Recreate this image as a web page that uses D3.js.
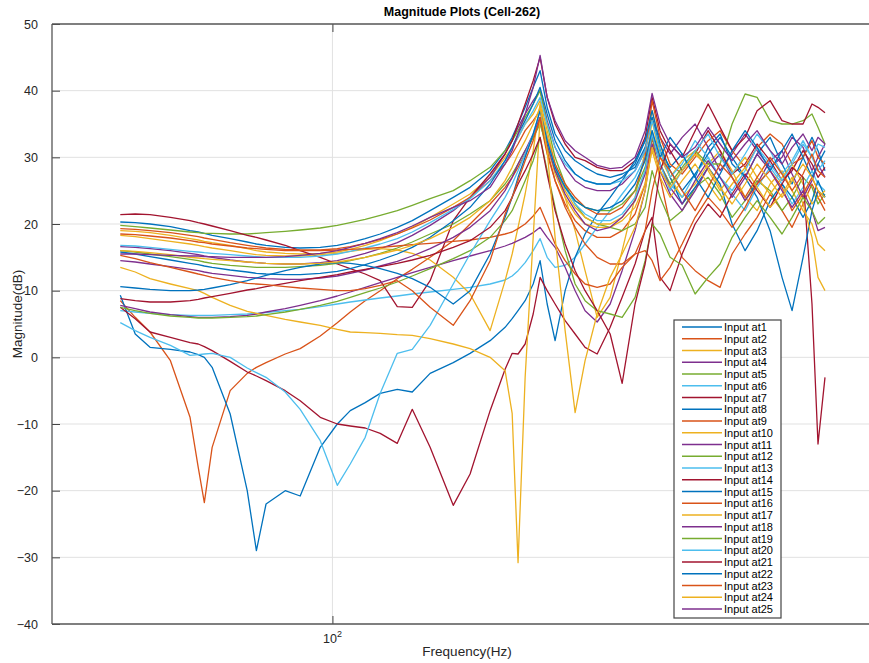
<!DOCTYPE html>
<html>
<head>
<meta charset="utf-8">
<script src="https://cdn.jsdelivr.net/npm/d3@7"></script>
<style>
body{margin:0;background:#fff;}
svg{display:block;font-family:"Liberation Sans",Arial,Helvetica,sans-serif;}
</style>
</head>
<body>
<div id="chart"></div>
<script>
// frequency grid (Hz), shared by every input
var freq = [50.0,52.5,55.1,58.9,62.8,64.5,65.8,67.5,71.6,75.7,78.0,80.5,85.7,90.0,96.1,101.6,106.0,111.3,116.9,123.6,129.8,137.6,
    148.4,156.8,167.4,175.8,179.9,183.4,187.7,192.7,197.1,201.7,207.0,213.9,221.0,228.3,237.5,247.8,257.7,268.8,277.8,284.2,
    291.7,301.4,313.5,327.1,341.3,354.9,369.1,385.1,400.5,417.9,434.5,449.0,465.4,479.2,488.7,500.0];

// magnitude (dB) per input location
var at1 = [20.3,20.2,20.0,19.6,19.0,18.8,18.6,18.3,17.8,17.3,17.0,16.8,16.5,16.4,16.5,16.8,17.2,17.8,18.5,19.5,20.5,22.0,
    24.0,25.5,28.0,31.0,33.0,35.0,37.5,40.5,43.0,37.5,33.5,31.0,29.5,28.5,27.5,27.0,27.5,28.5,31.5,36.0,
    31.0,28.5,30.5,27.0,31.5,33.5,29.0,27.0,30.5,33.0,29.0,26.0,30.0,33.0,31.0,28.0];
var at2 = [8.5,6.0,3.8,-0.5,-9.0,-16.5,-21.8,-13.5,-5.0,-2.4,-1.5,-0.8,0.5,1.3,3.2,5.2,6.8,8.5,10.0,11.8,13.2,15.0,
    17.5,20.0,23.0,25.5,27.0,28.5,30.5,33.0,35.5,30.5,26.5,23.0,20.5,19.0,18.0,18.0,19.0,21.5,26.0,33.0,
    27.0,20.0,15.0,13.0,11.5,10.5,15.5,18.5,21.0,24.5,22.0,19.5,23.0,26.0,24.0,22.0];
var at3 = [19.0,18.9,18.7,18.3,17.8,17.6,17.4,17.2,16.8,16.3,16.0,15.8,15.6,15.5,15.6,15.8,16.2,16.8,17.5,18.5,19.5,21.0,
    23.0,24.5,27.0,30.0,31.5,33.0,35.0,36.5,38.5,34.0,29.0,24.0,19.0,13.0,6.0,9.0,16.0,24.0,31.0,37.0,
    32.0,27.0,24.0,26.0,29.0,31.0,28.0,24.0,22.0,26.0,28.0,25.0,22.0,20.0,17.0,16.0];
var at4 = [16.6,16.5,16.3,16.0,15.6,15.4,15.2,15.0,14.6,14.3,14.2,14.1,14.0,14.0,14.2,14.5,15.0,15.6,16.3,17.2,18.3,19.8,
    22.0,24.0,27.0,30.5,32.5,34.5,36.5,38.5,40.0,35.5,31.5,28.5,26.5,25.5,25.0,25.0,26.0,28.0,31.0,35.5,
    33.0,30.5,33.0,35.0,31.5,28.0,30.5,33.5,31.0,28.5,30.0,33.0,31.5,28.0,30.0,32.0];
var at5 = [19.8,19.6,19.4,19.1,18.8,18.7,18.6,18.6,18.5,18.5,18.6,18.7,18.9,19.1,19.4,19.8,20.2,20.7,21.3,22.0,22.8,23.8,
    25.0,26.5,28.5,31.0,32.5,34.0,36.0,38.0,40.0,35.0,30.0,26.0,23.0,21.0,20.0,19.5,19.0,20.0,22.5,28.0,
    24.0,20.5,22.0,25.5,27.0,24.5,21.0,23.5,26.5,25.0,22.0,24.0,27.0,25.5,23.0,24.5];
var at6 = [7.0,6.8,6.6,6.4,6.3,6.3,6.3,6.3,6.4,6.5,6.6,6.7,7.0,7.2,7.6,8.0,8.3,8.6,8.9,9.2,9.5,9.8,
    10.2,10.5,11.0,11.6,12.2,13.0,14.2,16.0,17.8,15.0,13.5,13.8,15.0,17.0,19.5,22.0,24.5,27.0,30.0,34.0,
    29.0,26.0,24.0,27.5,30.0,27.0,24.5,22.0,25.5,28.5,26.0,23.0,25.5,28.0,26.0,25.0];
var at7 = [21.4,21.5,21.4,21.0,20.5,20.2,20.0,19.7,19.0,18.3,18.0,17.6,16.8,16.0,15.0,14.0,13.3,12.5,11.5,7.6,7.5,11.5,
    20.5,24.0,27.5,30.5,32.5,35.0,38.0,41.5,45.0,39.0,35.0,32.0,30.0,29.5,28.5,28.0,28.0,29.5,33.0,39.0,
    34.0,31.0,28.0,30.5,34.0,31.0,27.5,29.0,32.0,29.5,26.5,28.0,31.0,29.0,27.0,28.5];
var at8 = [9.3,3.5,1.5,1.2,0.8,0.4,0.0,-1.5,-8.5,-20.0,-29.0,-22.0,-20.0,-20.8,-13.5,-10.0,-8.0,-6.8,-5.4,-4.8,-5.2,-2.4,
    -0.8,0.6,2.5,4.5,5.8,7.0,8.5,11.0,14.5,8.0,2.5,10.0,15.0,18.5,21.5,24.0,26.5,29.5,32.5,36.0,
    31.0,27.0,23.0,25.5,28.5,26.0,20.0,16.0,19.0,23.5,26.0,24.0,21.0,23.5,26.5,24.0];
var at9 = [19.3,19.2,19.0,18.7,18.3,18.1,17.9,17.7,17.2,16.8,16.6,16.4,16.2,16.1,16.1,16.3,16.6,17.1,17.7,18.5,19.4,20.6,
    22.5,24.0,26.5,29.0,30.5,32.0,34.0,35.5,37.0,33.0,29.0,26.0,24.0,22.5,21.5,21.5,22.5,25.0,30.0,38.5,
    33.0,29.0,27.5,30.0,32.5,34.0,31.0,28.5,31.5,33.5,32.0,29.0,30.0,32.5,30.0,29.0];
var at10 = [18.3,18.1,17.8,17.4,17.0,16.8,16.6,16.4,16.0,15.6,15.4,15.3,15.2,15.2,15.4,15.6,15.9,16.2,16.3,16.1,15.6,14.6,
    12.0,9.5,4.0,11.5,15.5,19.5,24.5,31.0,38.0,33.0,28.5,25.0,22.5,21.0,20.0,20.0,21.0,23.5,28.0,35.5,
    30.0,27.0,29.5,31.0,28.0,25.0,27.5,30.0,27.0,24.5,27.0,29.0,26.0,23.0,24.0,25.0];
var at11 = [7.8,7.3,6.8,6.4,6.1,6.0,6.0,6.0,6.1,6.3,6.5,6.8,7.3,7.8,8.5,9.2,9.8,10.5,11.2,12.0,12.7,13.5,
    14.5,15.2,16.0,16.7,17.1,17.5,18.0,18.7,19.5,18.0,16.5,13.5,10.0,7.0,5.3,8.0,13.0,19.0,25.0,32.0,
    28.0,24.5,22.0,25.0,28.5,30.5,27.0,23.5,26.0,29.5,31.0,27.5,24.0,26.5,29.0,27.0];
var at12 = [16.0,15.8,15.5,15.1,14.7,14.5,14.3,14.1,13.8,13.6,13.5,13.5,13.5,13.6,13.8,14.1,14.5,15.0,15.6,16.4,17.3,18.5,
    20.0,21.5,23.5,26.0,27.5,29.0,31.0,33.0,35.0,31.5,28.0,25.5,23.5,22.5,22.0,22.0,23.0,25.0,28.5,33.0,
    29.0,26.0,28.5,31.0,29.0,29.0,35.0,39.5,39.0,35.5,35.0,35.0,35.5,36.5,34.5,32.0];
var at13 = [16.8,16.7,16.5,16.2,15.9,15.8,15.7,15.6,15.4,15.2,15.1,15.0,15.0,15.0,15.2,15.5,15.9,16.4,17.0,17.8,18.8,20.2,
    22.2,23.8,26.5,29.5,31.5,33.0,35.0,37.0,39.0,35.0,31.5,29.0,27.5,26.5,26.0,26.0,26.5,28.0,31.0,35.5,
    31.0,27.0,29.0,32.5,30.0,27.0,25.0,28.0,31.5,29.0,26.5,29.0,32.0,30.0,32.0,31.5];
var at14 = [7.5,5.8,3.8,3.0,2.2,2.0,1.6,1.0,-0.6,-2.2,-2.8,-3.5,-5.0,-6.5,-9.0,-10.0,-10.3,-10.6,-11.4,-12.9,-7.8,-13.5,
    -22.2,-17.5,-8.0,-1.8,0.6,0.5,2.0,6.5,12.0,10.0,8.0,5.5,3.5,1.5,0.5,4.5,9.0,14.0,19.0,21.0,
    12.0,10.0,15.5,20.0,23.0,21.0,24.5,27.5,25.0,22.5,26.0,28.5,27.0,8.0,-13.0,-3.0];
var at15 = [15.8,15.5,15.1,14.6,14.1,13.9,13.7,13.5,13.1,12.8,12.6,12.5,12.4,12.4,12.6,12.9,13.3,13.9,14.6,15.5,16.5,18.0,
    20.5,22.5,26.0,29.5,31.5,33.5,35.5,38.0,40.5,36.5,32.5,29.5,27.5,26.5,26.0,26.0,27.0,29.0,32.5,37.0,
    32.0,28.0,25.0,27.5,30.5,33.0,30.0,27.0,24.0,19.0,12.0,7.0,15.0,22.0,25.0,24.0];
var at16 = [18.5,18.4,18.2,17.9,17.5,17.3,17.2,17.0,16.7,16.4,16.3,16.2,16.0,16.0,16.0,16.1,16.2,16.3,16.5,16.7,16.9,17.1,
    17.4,17.6,18.0,18.5,18.8,19.3,20.0,21.2,22.5,20.0,17.0,14.5,12.5,11.0,10.5,11.0,13.5,15.5,16.0,14.5,
    11.5,13.5,17.0,21.0,24.0,22.0,19.5,22.5,26.0,28.0,25.5,22.0,24.5,27.0,25.0,23.0];
var at17 = [13.5,12.8,11.8,11.0,10.3,10.0,9.6,9.0,7.8,6.9,6.6,6.3,5.7,5.3,4.8,4.2,3.8,3.7,3.6,3.4,3.3,2.8,
    2.0,1.3,0.0,-2.0,-8.4,-30.8,-3.0,18.0,36.0,32.0,27.5,24.0,21.5,20.0,19.5,19.5,20.5,22.5,26.0,31.0,
    27.0,24.0,26.5,29.0,26.0,23.5,26.0,28.5,25.5,22.5,24.5,27.0,23.0,18.0,12.0,10.0];
var at18 = [14.5,14.3,14.0,13.6,13.2,13.0,12.8,12.6,12.3,12.0,11.9,11.8,11.7,11.7,11.9,12.2,12.6,13.1,13.7,14.4,15.2,16.3,
    18.0,19.5,22.0,25.0,27.0,29.0,31.0,33.5,36.0,32.0,28.0,24.5,22.0,20.0,19.0,19.5,21.0,23.5,27.5,33.5,
    29.0,25.5,23.0,26.5,29.5,27.0,24.0,27.0,30.5,28.0,25.0,22.5,25.0,22.0,19.0,19.5];
var at19 = [7.5,7.0,6.6,6.2,6.0,5.9,5.9,5.9,6.0,6.1,6.2,6.4,6.8,7.2,7.8,8.4,9.0,9.7,10.4,11.3,12.2,13.3,
    14.8,16.0,18.0,20.5,22.0,24.0,26.5,29.5,33.0,28.0,22.5,16.0,11.0,8.5,7.0,6.5,6.0,9.0,14.5,20.0,
    18.5,15.0,13.8,9.5,12.0,14.0,18.0,21.0,23.5,21.0,18.5,21.0,24.0,22.0,20.0,21.0];
var at20 = [5.2,4.0,3.0,1.8,0.3,0.4,0.5,0.6,0.0,-1.6,-2.3,-3.0,-5.2,-7.8,-12.5,-19.2,-16.0,-12.0,-5.4,0.6,1.2,4.8,
    11.0,15.5,20.5,24.0,26.0,28.0,30.5,33.5,37.0,32.5,28.5,25.5,23.0,21.5,20.5,20.5,21.5,24.0,28.0,33.5,
    29.0,25.0,28.0,31.0,33.5,30.0,27.5,30.5,33.5,31.0,27.5,29.5,32.5,30.0,28.0,29.5];
var at21 = [8.8,8.5,8.3,8.3,8.5,8.7,8.9,9.1,9.6,10.1,10.3,10.6,11.1,11.5,12.0,12.4,12.8,13.2,13.6,14.1,14.6,15.3,
    16.5,17.5,19.5,22.0,24.0,26.0,28.0,30.5,33.0,27.5,22.0,17.0,13.0,10.0,7.0,3.5,-3.9,8.0,14.0,20.0,
    28.0,32.0,30.0,34.0,38.0,34.5,31.0,33.0,37.0,38.5,35.5,35.0,35.0,38.0,37.5,36.7];
var at22 = [10.6,10.4,10.2,10.0,10.0,10.1,10.2,10.4,10.9,11.5,11.9,12.3,13.0,13.5,14.0,14.2,14.1,13.8,13.3,12.6,11.8,10.5,
    8.0,10.0,15.5,21.0,24.0,27.0,30.0,33.5,37.0,32.5,28.5,25.5,23.5,22.5,22.0,22.5,23.5,26.0,29.5,34.0,
    30.0,33.0,30.5,27.0,24.0,27.5,31.0,34.0,31.5,28.0,31.0,33.5,30.0,27.0,29.0,31.0];
var at23 = [15.3,14.8,14.2,13.5,12.8,12.5,12.3,12.0,11.5,11.1,11.0,10.9,10.6,10.4,10.2,10.0,10.0,10.3,10.8,11.5,10.0,7.5,
    4.8,8.5,14.5,21.5,24.0,26.5,29.5,32.5,36.0,31.0,26.5,22.5,19.5,17.0,15.0,14.0,14.0,15.5,19.0,25.0,
    30.0,28.0,25.0,22.0,25.5,29.0,27.0,24.0,27.0,30.0,27.5,25.0,27.5,30.5,28.0,27.0];
var at24 = [16.0,15.9,15.7,15.4,15.0,14.9,14.8,14.7,14.5,14.3,14.2,14.1,14.0,14.0,14.1,14.3,14.6,15.0,15.5,16.1,16.8,17.8,
    19.5,21.0,23.5,26.5,28.5,30.5,32.5,35.0,37.5,31.0,18.0,4.0,-8.3,-0.5,6.5,12.0,15.5,19.5,25.0,31.5,
    28.0,25.5,28.0,30.5,28.5,25.5,23.0,26.0,29.0,26.5,24.0,26.5,29.0,27.0,25.0,24.0];
var at25 = [15.5,15.5,15.4,15.3,15.2,15.2,15.1,15.1,15.0,15.0,15.0,15.0,15.1,15.3,15.6,16.0,16.5,17.1,17.8,18.7,19.7,21.0,
    22.5,23.5,25.5,29.0,31.0,33.5,36.5,40.5,45.3,39.0,35.5,32.5,31.0,30.0,28.8,28.3,28.5,30.0,34.0,39.6,
    35.0,32.0,30.0,31.5,34.5,32.0,29.5,32.0,34.0,31.0,29.0,31.5,33.5,31.0,33.0,32.0];

var series = [at1,at2,at3,at4,at5,at6,at7,at8,at9,at10,at11,at12,at13,at14,at15,at16,at17,at18,at19,at20,at21,at22,at23,at24,at25];
var names = series.map(function(d,i){ return "Input at" + (i+1); });
var colors = ["#0072BD","#D95319","#EDB120","#7E2F8E","#77AC30","#4DBEEE","#A2142F"];

var yTicks = [-40,-30,-20,-10,0,10,20,30,40,50];
var xTicks = [100];
var xDomain = [40, 583];
var yDomain = [-40, 50];

function init(){
    var w = 869, h = 663;
    var left = 52, right = 872, top = 24, bottom = 624;

    var svg = d3.select("#chart").append("svg")
        .attr("width", w)
        .attr("height", h);

    var xScale = d3.scaleLog().domain(xDomain).range([left, right]);
    var yScale = d3.scaleLinear().domain(yDomain).range([bottom, top]);

    // grid
    svg.append("g").selectAll("line")
        .data(yTicks.filter(function(t){ return t > -40 && t < 50; }))
        .enter().append("line")
        .attr("x1", left).attr("x2", right)
        .attr("y1", function(d){ return yScale(d); })
        .attr("y2", function(d){ return yScale(d); })
        .attr("stroke", "#e1e1e1").attr("stroke-width", 1);
    svg.append("g").selectAll("line")
        .data(xTicks)
        .enter().append("line")
        .attr("x1", function(d){ return xScale(d); })
        .attr("x2", function(d){ return xScale(d); })
        .attr("y1", top).attr("y2", bottom)
        .attr("stroke", "#e1e1e1").attr("stroke-width", 1);

    // curves
    var line = d3.line()
        .x(function(d,i){ return xScale(freq[i]); })
        .y(function(d){ return yScale(d); });

    svg.append("g").selectAll("path")
        .data(series)
        .enter().append("path")
        .attr("d", line)
        .attr("fill", "none")
        .attr("stroke", function(d,i){ return colors[i % 7]; })
        .attr("stroke-width", 1.3)
        .attr("stroke-linejoin", "round");

    // axes (MATLAB style: ticks inside)
    var yAxis = d3.axisLeft(yScale).tickValues(yTicks).tickSize(-8).tickPadding(14);
    var gy = svg.append("g").attr("transform", "translate(" + left + ",0)").call(yAxis);
    var xAxis = d3.axisBottom(xScale).tickValues(xTicks).tickSize(-8).tickFormat("");
    var gx = svg.append("g").attr("transform", "translate(0," + bottom + ")").call(xAxis);
    var xTop = d3.axisTop(xScale).tickValues(xTicks).tickSize(-8).tickFormat("");
    var gt = svg.append("g").attr("transform", "translate(0," + top + ")").call(xTop);
    [gx, gy, gt].forEach(function(g){
        g.select(".domain").remove();
        g.selectAll(".tick line").attr("stroke", "#444");
        g.selectAll("text").attr("fill", "#262626").style("font-size", "12.5px");
    });

    svg.append("text")
        .attr("x", xScale(100)).attr("y", 643)
        .attr("text-anchor", "middle")
        .attr("fill", "#262626")
        .style("font-size", "12.5px")
        .text("10")
        .append("tspan").attr("dy", -6).style("font-size", "9px").text("2");

    // frame: left, top, bottom (right edge falls outside the window)
    var frame = [[left, top, right, top], [left, top, left, bottom], [left, bottom, right, bottom]];
    svg.append("g").selectAll("line")
        .data(frame)
        .enter().append("line")
        .attr("x1", function(d){ return d[0]; }).attr("y1", function(d){ return d[1]; })
        .attr("x2", function(d){ return d[2]; }).attr("y2", function(d){ return d[3]; })
        .attr("stroke", "#555").attr("stroke-width", 1.3);

    // labels
    svg.append("text")
        .attr("x", 462).attr("y", 16)
        .attr("text-anchor", "middle")
        .style("font-size", "12.5px").style("font-weight", "bold")
        .attr("fill", "#000")
        .text("Magnitude Plots (Cell-262)");
    svg.append("text")
        .attr("x", 467).attr("y", 656)
        .attr("text-anchor", "middle")
        .style("font-size", "13.5px")
        .attr("fill", "#262626")
        .text("Frequency(Hz)");
    svg.append("text")
        .attr("transform", "translate(22," + ((top + bottom) / 2 - 10) + ") rotate(-90)")
        .attr("text-anchor", "middle")
        .style("font-size", "13.5px")
        .attr("fill", "#262626")
        .text("Magnitude(dB)");

    // legend
    var lg = svg.append("g");
    lg.append("rect")
        .attr("x", 674).attr("y", 320)
        .attr("width", 107).attr("height", 298)
        .attr("fill", "#fff").attr("stroke", "#444").attr("stroke-width", 1.2);
    var rows = lg.selectAll("g.row")
        .data(names)
        .enter().append("g")
        .attr("class", "row")
        .attr("transform", function(d,i){ return "translate(0," + (327 + i * 11.75) + ")"; });
    rows.append("line")
        .attr("x1", 682).attr("x2", 722)
        .attr("stroke", function(d,i){ return colors[i % 7]; })
        .attr("stroke-width", 1.3);
    rows.append("text")
        .attr("x", 724).attr("y", 4)
        .style("font-size", "11px")
        .attr("fill", "#000")
        .text(function(d){ return d; });
}
window.onload = init;
</script>
</body>
</html>
